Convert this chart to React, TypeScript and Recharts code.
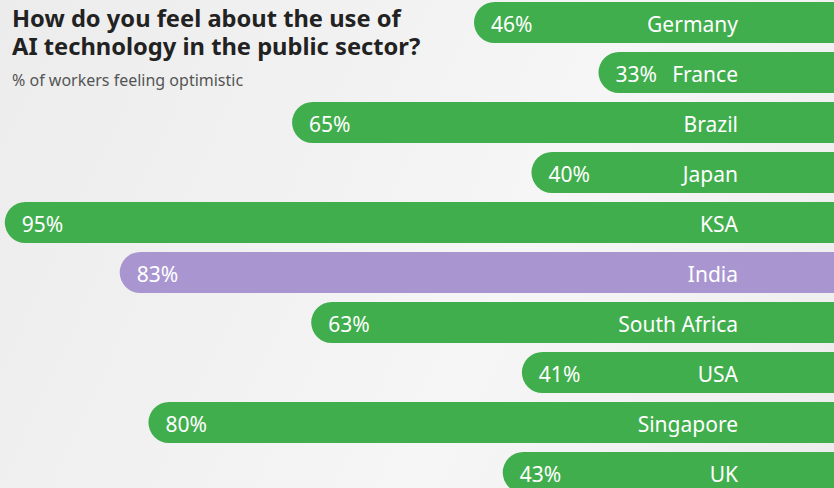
import { BarChart, Bar, XAxis, YAxis, Cell, LabelList } from 'recharts';

const countries = ['Germany', 'France', 'Brazil', 'Japan', 'KSA', 'India', 'South Africa', 'USA', 'Singapore', 'UK'];
const optimistic = [46, 33, 65, 40, 95, 83, 63, 41, 80, 43];
const highlight = 'India';
const titleLines = ['How do you feel about the use of', 'AI technology in the public sector?'];

const GREEN = '#41ae4d';
const PURPLE = '#a996d0';
const FONT = '"Noto Sans", "Open Sans", sans-serif';

const data = countries.map((country, i) => ({ country, value: optimistic[i] }));

// value label sits just inside the rounded left end of each bar
const renderValue = (props: any) => {
  const { x, y, width, height, value } = props;
  const left = Math.min(x, x + width);
  return (
    <text
      x={left + 17}
      y={y + height / 2 + 1}
      fill="#fff"
      fontSize={21}
      fontFamily={FONT}
      dominantBaseline="central"
    >
      {`${value}%`}
    </text>
  );
};

// country names are right-aligned to a common column
const renderName = (props: any) => {
  const { y, height, value } = props;
  return (
    <text
      x={738}
      y={y + height / 2 + 1}
      fill="#fff"
      fontSize={21}
      fontFamily={FONT}
      textAnchor="end"
      dominantBaseline="central"
    >
      {value}
    </text>
  );
};

export default function App() {
  return (
    <div
      style={{
        position: 'absolute',
        left: 0,
        top: 0,
        width: 834,
        height: 488,
        overflow: 'hidden',
        background: 'linear-gradient(115deg, #ececec 0%, #f3f3f3 45%, #f6f6f6 60%, #ededed 100%)',
        fontFamily: FONT,
      }}
    >
      <div style={{ position: 'absolute', top: -3, left: 0 }}>
        <BarChart
          layout="vertical"
          width={880}
          height={500}
          data={data}
          margin={{ top: 0, right: 0, bottom: 0, left: 0 }}
          barCategoryGap={9}
        >
          <XAxis type="number" hide reversed domain={[3.6, 95.5]} allowDataOverflow />
          <YAxis type="category" dataKey="country" hide />
          <Bar dataKey="value" barSize={41} radius={21} isAnimationActive={false}>
            {data.map((d) => (
              <Cell key={d.country} fill={d.country === highlight ? PURPLE : GREEN} />
            ))}
            <LabelList dataKey="value" content={renderValue} />
            <LabelList dataKey="country" content={renderName} />
          </Bar>
        </BarChart>
      </div>
      {titleLines.map((line, i) => (
        <div
          key={line}
          style={{
            position: 'absolute',
            left: 12,
            top: 6 + i * 27.5,
            color: '#222',
            fontWeight: 700,
            fontSize: 23.7,
            lineHeight: '24px',
            whiteSpace: 'nowrap',
          }}
        >
          {line}
        </div>
      ))}
      <div style={{ position: 'absolute', left: 12, top: 70, color: '#555', fontSize: 16, lineHeight: '20px' }}>
        % of workers feeling optimistic
      </div>
    </div>
  );
}
